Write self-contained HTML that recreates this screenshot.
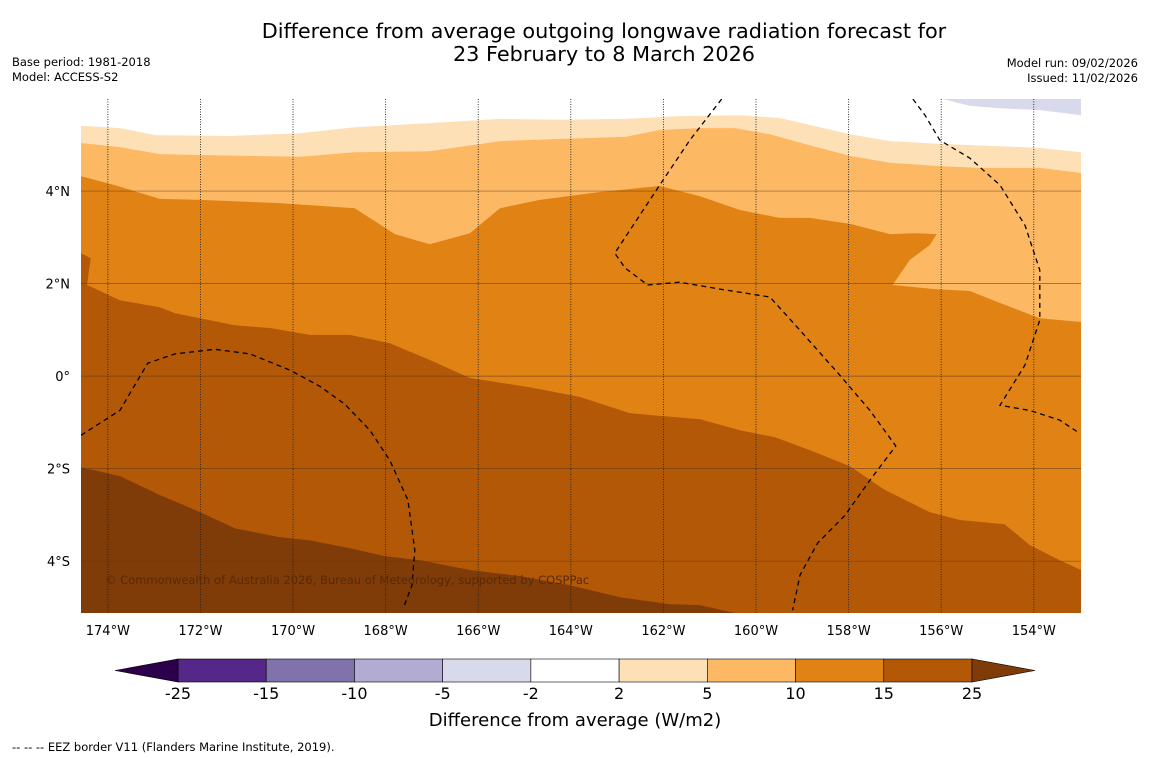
<!DOCTYPE html>
<html><head><meta charset="utf-8">
<style>
html,body{margin:0;padding:0;background:#fff;}
svg{display:block;font-family:"DejaVu Sans","Liberation Sans",sans-serif;}
</style></head>
<body>
<svg id="chart" width="1150" height="758" viewBox="0 0 1150 758">
<rect width="1150" height="758" fill="#fff"/>
<text x="604" y="38" font-size="20.8" text-anchor="middle">Difference from average outgoing longwave radiation forecast for</text>
<text x="604" y="61" font-size="20.8" text-anchor="middle">23 February to 8 March 2026</text>
<text x="12" y="66" font-size="11.5">Base period: 1981-2018</text>
<text x="12" y="81" font-size="11.5">Model: ACCESS-S2</text>
<text x="1138" y="67" font-size="11.5" text-anchor="end">Model run: 09/02/2026</text>
<text x="1138" y="82" font-size="11.5" text-anchor="end">Issued: 11/02/2026</text>
<defs><clipPath id="mapclip"><rect x="81" y="99" width="1000" height="514"/></clipPath></defs>
<g id="map" clip-path="url(#mapclip)"></g>
<g id="axes"></g>
<g id="cbar"></g>
<text x="575" y="726" font-size="18" text-anchor="middle">Difference from average (W/m2)</text>
<text x="12" y="751" font-size="11.5">--  --  -- EEZ border V11 (Flanders Marine Institute, 2019).</text>
</svg>
<script>
// Map extents
const lonMin=-174.58, lonMax=-152.98, latMin=-5.12, latMax=5.99;
const lonTicks=[-174,-172,-170,-168,-166,-164,-162,-160,-158,-156,-154];
const lonLabels=["174°W","172°W","170°W","168°W","166°W","164°W","162°W","160°W","158°W","156°W","154°W"];
const latTicks=[4,2,0,-2,-4];
const latLabels=["4°N","2°N","0°","2°S","4°S"];
// Contour boundaries (lon, lat), left to right; region above each gets the band colour
const b25Lon=[-174.58,-173.74,-172.88,-172.01,-171.26,-170.29,-169.64,-168.77,-168.02,-167.26,-166.18,-165.10,-164.02,-162.94,-161.86,-161.21,-160.46];
const b25Lat=[-1.97,-2.16,-2.57,-2.94,-3.29,-3.48,-3.55,-3.72,-3.89,-3.98,-4.19,-4.32,-4.52,-4.78,-4.93,-4.95,-5.12];
const b15Lon=[-174.58,-174.37,-174.45,-173.74,-172.88,-172.55,-171.26,-170.50,-169.64,-168.77,-167.91,-167.05,-166.18,-164.89,-163.81,-162.73,-162.08,-161.21,-160.35,-159.59,-158.84,-157.97,-157.22,-156.25,-155.60,-154.63,-154.09,-153.44,-152.98];
const b15Lat=[2.66,2.55,1.97,1.64,1.49,1.36,1.10,1.04,0.89,0.89,0.71,0.35,-0.04,-0.24,-0.45,-0.80,-0.86,-0.93,-1.17,-1.32,-1.60,-1.95,-2.46,-2.94,-3.11,-3.20,-3.65,-3.98,-4.19];
const b10Lon=[-174.58,-173.85,-172.88,-172.01,-170.29,-169.42,-168.67,-167.80,-167.05,-166.18,-165.53,-164.67,-163.37,-162.08,-161.21,-160.35,-159.49,-158.84,-157.97,-157.11,-156.57,-156.10,-156.25,-156.68,-157.05,-156.14,-155.38,-154.73,-153.87,-152.98];
const b10Lat=[4.32,4.13,3.83,3.81,3.74,3.68,3.63,3.07,2.85,3.09,3.63,3.81,3.98,4.11,3.89,3.59,3.42,3.42,3.29,3.07,3.09,3.07,2.83,2.51,1.97,1.88,1.84,1.58,1.25,1.17];
const b5Lon=[-174.58,-173.74,-172.88,-172.01,-170.93,-169.85,-168.67,-167.05,-165.53,-164.45,-162.83,-162.08,-161.21,-160.46,-159.70,-158.84,-157.97,-157.11,-156.03,-155.17,-153.87,-152.98];
const b5Lat=[5.04,4.95,4.80,4.78,4.76,4.74,4.84,4.86,5.08,5.12,5.17,5.32,5.36,5.36,5.23,4.99,4.76,4.61,4.54,4.50,4.50,4.39];
const b2Lon=[-174.58,-173.74,-172.98,-171.37,-169.85,-168.67,-167.05,-165.53,-164.24,-162.83,-161.65,-160.35,-159.49,-158.84,-157.97,-157.11,-156.03,-154.73,-153.87,-152.98];
const b2Lat=[5.41,5.36,5.21,5.19,5.25,5.38,5.47,5.56,5.54,5.56,5.62,5.64,5.58,5.43,5.23,5.08,5.02,4.97,4.93,4.84];
const lavLon=[-155.97,-155.38,-154.73,-153.87,-152.98,-152.98];
const lavLat=[5.99,5.84,5.79,5.75,5.64,5.99];
// EEZ dashed borders
const eez1Lon=[-174.58,-173.74,-173.14,-172.55,-171.69,-170.93,-170.07,-169.42,-168.88,-168.34,-167.91,-167.52,-167.37,-167.43,-167.61];
const eez1Lat=[-1.28,-0.74,0.28,0.48,0.58,0.48,0.13,-0.22,-0.61,-1.17,-1.82,-2.68,-3.76,-4.52,-4.99];
const eez2Lon=[-160.74,-161.43,-162.08,-163.05,-162.83,-162.34,-161.65,-160.78,-159.70,-159.05,-158.19,-157.54,-156.98,-157.54,-158.08,-158.67,-159.05,-159.21];
const eez2Lat=[5.99,5.10,4.13,2.66,2.34,1.97,2.03,1.88,1.71,0.99,0.02,-0.74,-1.51,-2.25,-3.01,-3.61,-4.30,-5.06];
const eez3Lon=[-156.61,-156.35,-156.03,-155.38,-154.73,-154.19,-153.87,-153.87,-154.19,-154.73,-154.09,-153.44,-153.05];
const eez3Lat=[5.99,5.64,5.10,4.71,4.13,3.26,2.29,1.21,0.24,-0.63,-0.74,-0.95,-1.21];
// Colour scale
const cbLevels=["-25","-15","-10","-5","-2","2","5","10","15","25"];
const cbColors=["#542788","#8073ac","#b2abd2","#d8daeb","#ffffff","#fee0b6","#fdb863","#e08214","#b35806"];
const cbLow="#2d004b", cbHigh="#7f3b08";

const X0=81,X1=1081,Y0=99,Y1=613;
const xS=lon=>X0+(lon-lonMin)/(lonMax-lonMin)*(X1-X0);
const yS=lat=>Y0+(latMax-lat)/(latMax-latMin)*(Y1-Y0);
const NS="http://www.w3.org/2000/svg";
function mk(tag,attrs,parent){const e=document.createElementNS(NS,tag);for(const k in attrs)e.setAttribute(k,attrs[k]);parent.appendChild(e);return e;}
const map=document.getElementById('map'), axes=document.getElementById('axes'), cbar=document.getElementById('cbar');

function pts(lons,lats){return lons.map((l,i)=>xS(l).toFixed(1)+','+yS(lats[i]).toFixed(1));}
let bg=mk('rect',{x:X0,y:Y0,width:X1-X0,height:Y1-Y0,fill:cbHigh},map);


function band(lons,lats,color,name,bottomRight){
  const p=pts(lons,lats);
  if(bottomRight)p.push(X1+','+Y1);
  p.push(X1+','+Y0,X0+','+Y0);
  const e=mk('polygon',{points:p.join(' '),fill:color},map);
  
  
}
band(b25Lon,b25Lat,"#b35806","band-15-25",true);
band(b15Lon,b15Lat,"#e08214","band-10-15",false);
band(b10Lon,b10Lat,"#fdb863","band-5-10",false);
band(b5Lon,b5Lat,"#fee0b6","band-2-5",false);
band(b2Lon,b2Lat,"#ffffff","band-neutral",false);
let lav=mk('polygon',{points:pts(lavLon,lavLat).join(' '),fill:"#d8daeb"},map);



// grid
lonTicks.forEach((l,i)=>{
  const x=xS(l);
  const g=mk('line',{x1:x,y1:Y0,x2:x,y2:Y1,stroke:'#222','stroke-width':0.9,'stroke-dasharray':'1,1.5'},map);
  
  
  const t=mk('text',{x:x,y:Y1+22,'font-size':13,'text-anchor':'middle'},axes);
  t.textContent=lonLabels[i];
  
  
});
latTicks.forEach((l,i)=>{
  const y=yS(l);
  const g=mk('line',{x1:X0,y1:y,x2:X1,y2:y,stroke:'#5a3a1a','stroke-width':0.7,opacity:0.7},map);
  
  
  const t=mk('text',{x:70,y:y+5,'font-size':13,'text-anchor':'end'},axes);
  t.textContent=latLabels[i];
  
  
});
// EEZ
[[eez1Lon,eez1Lat],[eez2Lon,eez2Lat],[eez3Lon,eez3Lat]].forEach(([lo,la])=>{
  const e=mk('polyline',{points:pts(lo,la).join(' '),fill:'none',stroke:'#000','stroke-width':1.3,'stroke-dasharray':'5,4'},map);
  
  
});
const cr=mk('text',{x:105,y:584,'font-size':11.5,fill:'#5a2a05'},map);
cr.textContent='© Commonwealth of Australia 2026, Bureau of Meteorology, supported by COSPPac';



// colorbar
const CX0=178,CX1=972,CY=659,CH=23,n=cbColors.length,w=(CX1-CX0)/n;
cbColors.forEach((c,i)=>{
  const r=mk('rect',{x:CX0+i*w,y:CY,width:w,height:CH,fill:c,stroke:'#000','stroke-width':0.6},cbar);
  
  
});
let tl=mk('polygon',{points:`${CX0},${CY} ${CX0},${CY+CH} 115,${CY+CH/2}`,fill:cbLow,stroke:'#000','stroke-width':0.6},cbar);


let tr=mk('polygon',{points:`${CX1},${CY} ${CX1},${CY+CH} 1035,${CY+CH/2}`,fill:cbHigh,stroke:'#000','stroke-width':0.6},cbar);


cbLevels.forEach((v,i)=>{
  const t=mk('text',{x:CX0+i*w,y:699,'font-size':16,'text-anchor':'middle'},cbar);
  t.textContent=v;
  
  
});
</script>
</body></html>
